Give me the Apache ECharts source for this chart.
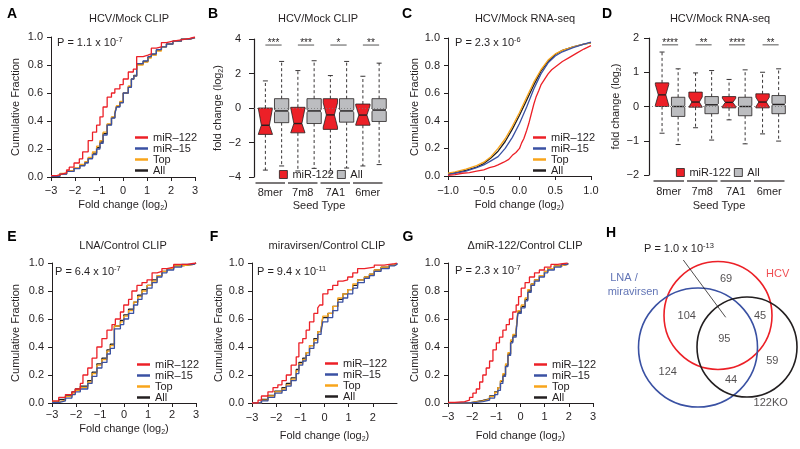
<!DOCTYPE html>
<html>
<head>
<meta charset="utf-8">
<script src="https://cdn.jsdelivr.net/npm/echarts@6/dist/echarts.min.js"></script>
<style>
html, body { margin: 0; padding: 0; background: #fff; }
#chart { width: 800px; height: 449px; }
</style>
</head>
<body>
<div id="chart"></div>
<script>
// --- A: HCV/Mock CLIP, [fold change, cumulative fraction]
const aMir122 = [[-3,0.01],[-2.76,0.02],[-2.56,0.03],[-2.35,0.05],[-2.24,0.07],[-2.04,0.1],[-1.82,0.13],[-1.68,0.18],[-1.45,0.26],[-1.27,0.32],[-1.1,0.37],[-0.96,0.43],[-0.83,0.5],[-0.66,0.57],[-0.48,0.6],[-0.34,0.63],[-0.13,0.66],[0.01,0.7],[0.22,0.75],[0.43,0.77],[0.57,0.86],[0.84,0.87],[1.04,0.88],[1.18,0.92],[1.39,0.93],[1.6,0.96],[1.81,0.97],[2.08,0.98],[2.43,0.99],[2.78,1.0],[3,1.0]];
const aMir15 = [[-3,0.005],[-2.63,0.02],[-2.35,0.04],[-2.04,0.06],[-1.8,0.08],[-1.59,0.1],[-1.45,0.13],[-1.27,0.16],[-1.1,0.2],[-0.96,0.24],[-0.83,0.3],[-0.66,0.37],[-0.48,0.42],[-0.34,0.45],[-0.27,0.5],[-0.13,0.53],[0.01,0.6],[0.22,0.64],[0.35,0.7],[0.45,0.72],[0.57,0.81],[0.84,0.83],[1.04,0.86],[1.18,0.88],[1.39,0.91],[1.6,0.93],[1.81,0.95],[2.08,0.97],[2.43,0.985],[2.78,0.995],[3,1.0]];
const aTop = [[-3,0.008],[-2.63,0.025],[-2.35,0.045],[-2.04,0.065],[-1.8,0.09],[-1.59,0.11],[-1.45,0.14],[-1.27,0.18],[-1.1,0.22],[-0.96,0.26],[-0.83,0.32],[-0.66,0.38],[-0.48,0.43],[-0.34,0.46],[-0.27,0.51],[-0.13,0.54],[0.01,0.6],[0.22,0.65],[0.35,0.7],[0.45,0.72],[0.57,0.8],[0.84,0.82],[1.04,0.85],[1.18,0.87],[1.39,0.9],[1.6,0.93],[1.81,0.95],[2.08,0.97],[2.43,0.985],[2.78,0.995],[3,1.0]];
const aAll = [[-3,0.006],[-2.63,0.022],[-2.35,0.042],[-2.04,0.062],[-1.8,0.085],[-1.59,0.105],[-1.45,0.135],[-1.27,0.17],[-1.1,0.21],[-0.96,0.25],[-0.83,0.31],[-0.66,0.375],[-0.48,0.425],[-0.34,0.455],[-0.27,0.505],[-0.13,0.535],[0.01,0.6],[0.22,0.645],[0.35,0.7],[0.45,0.725],[0.57,0.805],[0.84,0.825],[1.04,0.855],[1.18,0.875],[1.39,0.905],[1.6,0.93],[1.81,0.95],[2.08,0.97],[2.43,0.985],[2.78,0.995],[3,1.0]];

// --- C: HCV/Mock RNA-seq
const cMir122 = [[-1,0.005],[-0.9,0.01],[-0.8,0.02],[-0.7,0.025],[-0.6,0.035],[-0.5,0.045],[-0.42,0.06],[-0.35,0.07],[-0.3,0.08],[-0.22,0.1],[-0.15,0.12],[-0.1,0.15],[-0.05,0.17],[0,0.2],[0.03,0.24],[0.06,0.27],[0.1,0.33],[0.13,0.38],[0.16,0.44],[0.2,0.52],[0.23,0.57],[0.27,0.62],[0.3,0.66],[0.35,0.7],[0.4,0.74],[0.45,0.77],[0.5,0.79],[0.55,0.81],[0.6,0.83],[0.7,0.86],[0.8,0.89],[0.9,0.92],[1,0.945]];
const cMir15 = [[-1,0.01],[-0.9,0.02],[-0.75,0.035],[-0.6,0.06],[-0.5,0.08],[-0.4,0.11],[-0.3,0.14],[-0.2,0.2],[-0.1,0.28],[0,0.38],[0.1,0.5],[0.2,0.63],[0.3,0.74],[0.4,0.82],[0.5,0.87],[0.6,0.9],[0.75,0.93],[0.9,0.955],[1,0.97]];
const cTop = [[-1,0.02],[-0.9,0.03],[-0.75,0.05],[-0.6,0.075],[-0.5,0.1],[-0.4,0.14],[-0.3,0.2],[-0.2,0.27],[-0.1,0.36],[0,0.46],[0.1,0.57],[0.2,0.68],[0.3,0.77],[0.4,0.84],[0.5,0.885],[0.6,0.91],[0.75,0.935],[0.9,0.955],[1,0.965]];
const cAll = [[-1,0.015],[-0.9,0.025],[-0.75,0.04],[-0.6,0.065],[-0.5,0.09],[-0.4,0.13],[-0.3,0.18],[-0.2,0.25],[-0.1,0.34],[0,0.44],[0.1,0.55],[0.2,0.66],[0.3,0.76],[0.4,0.83],[0.5,0.88],[0.6,0.91],[0.75,0.935],[0.9,0.955],[1,0.965]];

// --- E: LNA/Control CLIP
const eMir122 = [[-3,0.015],[-2.72,0.04],[-2.44,0.06],[-2.17,0.08],[-2.03,0.1],[-1.82,0.14],[-1.71,0.2],[-1.51,0.25],[-1.33,0.32],[-1.13,0.4],[-0.92,0.46],[-0.71,0.52],[-0.5,0.56],[-0.36,0.6],[-0.15,0.65],[-0.01,0.7],[0.19,0.74],[0.33,0.8],[0.54,0.84],[0.75,0.86],[0.96,0.88],[1.17,0.93],[1.38,0.94],[1.58,0.96],[1.79,0.97],[2.07,0.99],[2.63,1.0],[3,1.0]];
const eMir15 = [[-3,0.003],[-2.72,0.015],[-2.44,0.035],[-2.17,0.06],[-2.03,0.08],[-1.82,0.1],[-1.51,0.14],[-1.33,0.19],[-1.13,0.25],[-0.92,0.29],[-0.71,0.35],[-0.57,0.39],[-0.4,0.53],[-0.15,0.56],[-0.01,0.6],[0.19,0.64],[0.4,0.7],[0.57,0.74],[0.75,0.78],[0.96,0.82],[1.17,0.86],[1.38,0.9],[1.58,0.93],[1.79,0.95],[2.07,0.97],[2.4,0.99],[2.9,1.0],[3,1.0]];
const eTop = [[-3,0.006],[-2.72,0.02],[-2.44,0.045],[-2.17,0.07],[-2.03,0.09],[-1.82,0.11],[-1.51,0.15],[-1.33,0.21],[-1.13,0.27],[-0.92,0.31],[-0.71,0.37],[-0.57,0.41],[-0.4,0.55],[-0.15,0.58],[-0.01,0.62],[0.19,0.66],[0.4,0.72],[0.57,0.76],[0.75,0.8],[0.96,0.84],[1.17,0.87],[1.38,0.91],[1.58,0.94],[1.79,0.96],[2.07,0.98],[2.4,0.99],[2.9,1.0],[3,1.0]];
const eAll = [[-3,0.008],[-2.72,0.025],[-2.44,0.05],[-2.17,0.08],[-2.03,0.1],[-1.82,0.12],[-1.51,0.16],[-1.33,0.22],[-1.13,0.28],[-0.92,0.32],[-0.71,0.38],[-0.57,0.42],[-0.4,0.55],[-0.15,0.59],[-0.01,0.63],[0.19,0.67],[0.4,0.72],[0.57,0.77],[0.75,0.81],[0.96,0.84],[1.17,0.88],[1.38,0.91],[1.58,0.94],[1.79,0.96],[2.07,0.98],[2.4,0.99],[2.9,1.0],[3,1.0]];

// --- F: miravirsen/Control CLIP
const fMir122 = [[-3,0],[-2.75,0.02],[-2.61,0.05],[-2.34,0.08],[-2.13,0.11],[-1.93,0.13],[-1.76,0.16],[-1.58,0.2],[-1.38,0.27],[-1.17,0.33],[-1.06,0.43],[-0.9,0.46],[-0.76,0.52],[-0.62,0.58],[-0.44,0.64],[-0.28,0.68],[-0.2,0.7],[-0.07,0.78],[0.14,0.81],[0.34,0.84],[0.55,0.87],[0.76,0.88],[0.96,0.9],[1.17,0.93],[1.37,0.96],[1.65,0.97],[2.06,0.985],[2.47,0.995],[2.9,1.0],[3,1.0]];
const fMir15 = [[-3,0],[-2.61,0.015],[-2.34,0.04],[-2.06,0.07],[-1.76,0.09],[-1.58,0.12],[-1.38,0.16],[-1.17,0.21],[-1.06,0.27],[-0.9,0.3],[-0.76,0.34],[-0.62,0.39],[-0.44,0.43],[-0.28,0.49],[-0.14,0.51],[-0.07,0.58],[0.14,0.61],[0.34,0.66],[0.55,0.72],[0.76,0.75],[0.96,0.78],[1.17,0.82],[1.37,0.86],[1.65,0.89],[1.86,0.91],[2.06,0.94],[2.34,0.96],[2.68,0.98],[2.9,0.99],[3,1.0]];
const fTop = [[-3,0],[-2.61,0.02],[-2.34,0.05],[-2.06,0.08],[-1.76,0.1],[-1.58,0.13],[-1.38,0.17],[-1.17,0.23],[-1.06,0.28],[-0.9,0.31],[-0.76,0.36],[-0.62,0.41],[-0.44,0.45],[-0.28,0.51],[-0.14,0.53],[-0.07,0.62],[0.14,0.64],[0.34,0.69],[0.55,0.75],[0.76,0.78],[0.96,0.81],[1.17,0.85],[1.37,0.88],[1.65,0.9],[1.86,0.92],[2.06,0.95],[2.34,0.97],[2.68,0.985],[2.9,0.995],[3,1.0]];
const fAll = [[-3,0],[-2.61,0.025],[-2.34,0.055],[-2.06,0.085],[-1.76,0.11],[-1.58,0.14],[-1.38,0.18],[-1.17,0.24],[-1.06,0.29],[-0.9,0.32],[-0.76,0.36],[-0.62,0.41],[-0.44,0.46],[-0.28,0.51],[-0.14,0.53],[-0.07,0.61],[0.14,0.64],[0.34,0.69],[0.55,0.74],[0.76,0.78],[0.96,0.81],[1.17,0.84],[1.37,0.88],[1.65,0.9],[1.86,0.92],[2.06,0.95],[2.34,0.97],[2.68,0.985],[2.9,0.995],[3,1.0]];

// --- G: ΔmiR-122/Control CLIP
const gMir122 = [[-3,0.005],[-2.72,0.01],[-2.31,0.02],[-2.11,0.04],[-1.97,0.07],[-1.83,0.1],[-1.69,0.15],[-1.56,0.2],[-1.42,0.25],[-1.28,0.3],[-1.14,0.38],[-1.0,0.43],[-0.87,0.47],[-0.73,0.52],[-0.59,0.56],[-0.46,0.6],[-0.32,0.65],[-0.18,0.7],[-0.08,0.76],[0.03,0.82],[0.19,0.86],[0.37,0.9],[0.58,0.93],[0.78,0.95],[0.99,0.97],[1.26,0.99],[1.54,1.0],[1.95,1.0]];
const gMir15 = [[-3,0],[-2.11,0.005],[-1.83,0.01],[-1.56,0.02],[-1.28,0.035],[-1.07,0.06],[-0.94,0.09],[-0.83,0.14],[-0.73,0.19],[-0.62,0.26],[-0.52,0.34],[-0.41,0.43],[-0.32,0.47],[-0.18,0.5],[-0.11,0.64],[0.03,0.68],[0.19,0.73],[0.3,0.79],[0.44,0.84],[0.58,0.87],[0.78,0.9],[0.99,0.93],[1.13,0.95],[1.4,0.97],[1.68,0.99],[1.95,1.0]];
const gTop = [[-3,0],[-2.11,0.008],[-1.83,0.015],[-1.56,0.025],[-1.28,0.045],[-1.07,0.075],[-0.94,0.11],[-0.83,0.16],[-0.73,0.21],[-0.62,0.28],[-0.52,0.36],[-0.41,0.45],[-0.32,0.49],[-0.18,0.52],[-0.11,0.66],[0.03,0.7],[0.19,0.75],[0.3,0.81],[0.44,0.85],[0.58,0.88],[0.78,0.91],[0.99,0.94],[1.13,0.96],[1.4,0.98],[1.68,0.99],[1.95,1.0]];
const gAll = [[-3,0],[-2.11,0.01],[-1.83,0.018],[-1.56,0.03],[-1.28,0.05],[-1.07,0.08],[-0.94,0.11],[-0.83,0.155],[-0.73,0.2],[-0.62,0.27],[-0.52,0.35],[-0.41,0.44],[-0.32,0.48],[-0.18,0.52],[-0.11,0.65],[0.03,0.69],[0.19,0.74],[0.3,0.8],[0.44,0.85],[0.58,0.88],[0.78,0.91],[0.99,0.94],[1.13,0.96],[1.4,0.98],[1.68,0.99],[1.95,1.0]];

// --- B / D: boxes per seed type, [low, q1, median, q3, high]
const seedTypes = ['8mer', '7m8', '7A1', '6mer'];
const bMir122 = [[-3.6,-1.53,-1.0,0,1.57],[-3.65,-1.44,-0.9,0.04,2.17],[-3.77,-1.24,-0.4,0.54,1.88],[-3.36,-1.0,-0.41,0.23,1.84]];
const bAll = [[-3.36,-0.85,-0.17,0.54,2.7],[-3.5,-0.9,-0.17,0.54,2.74],[-3.48,-0.82,-0.17,0.54,2.7],[-3.28,-0.78,-0.12,0.54,2.6]];
const bMir122Notch = [1.0, 0.9, 0.7, 0.55];
const bAllNotch = [0.1, 0.1, 0.1, 0.1];
const bStars = ['***', '***', '*', '**'];
const dMir122 = [[-0.78,0,0.34,0.69,1.59],[-0.62,-0.02,0.13,0.42,0.98],[-0.39,-0.04,0.12,0.29,0.79],[-0.8,-0.04,0.13,0.37,1.0]];
const dAll = [[-1.11,-0.29,0,0.27,1.1],[-0.98,-0.21,0.05,0.29,1.05],[-1.09,-0.27,0,0.27,1.07],[-1.01,-0.21,0.06,0.32,1.1]];
const dMir122Notch = [0.3, 0.15, 0.12, 0.14];
const dAllNotch = [0.03, 0.03, 0.03, 0.03];
const dStars = ['****', '**', '****', '**'];

// --- H: Venn diagram (panel units)
const vennCx = [123, 103, 152];
const vennCy = [105.5, 137.5, 137];
const vennR = [54, 59.5, 50];
const vennCounts = [69, 104, 45, 95, 59, 124, 44];
const vennCountX = [131, 91.7, 165, 129.3, 177.3, 72.7, 136];
const vennCountY = [69, 106, 106, 129, 151, 162.3, 170];
const vennNames = ['HCV', '122KO', 'LNA /', 'miravirsen'];
const vennNameX = [182.7, 175.7, 29, 38];
const vennNameY = [64.3, 193.3, 68.3, 81.7];

const font = 'Liberation Sans, Arial, Helvetica, sans-serif';
const ink = '#231f20';
const colRed = '#ec2027', colBlue = '#3a51a3', colOrange = '#f8a51b', colGray = '#bcbdc0';
const vennColors = [colRed, colBlue, ink];
const vennNameColors = [colRed, ink, colBlue, colBlue];

const rich = {
    t: { fontSize: 11, fontFamily: font, color: ink, lineHeight: 14 },
    s: { fontSize: 7, fontFamily: font, color: ink, lineHeight: 7, verticalAlign: 'bottom' },
    p: { fontSize: 7.5, fontFamily: font, color: ink, lineHeight: 8, verticalAlign: 'top' }
};
const foldName = '{t|Fold change (log}{s|2}{t|)}';
const foldNameLower = '{t|fold change (log}{s|2}{t|)}';

function minus(v, digits) {
    const s = digits === undefined ? String(Math.abs(v)) : Math.abs(v).toFixed(digits);
    return (v < 0 ? '\u2212' : '') + s;
}

function cdfX(grid, min, max, interval, digits, margin, nameGap, showMax) {
    return {
        type: 'value', gridIndex: grid, min, max, interval,
        axisLine: { show: true, onZero: false, lineStyle: { color: ink, width: 1 } },
        axisTick: { show: true, length: 4, lineStyle: { color: ink } },
        axisLabel: { fontSize: 11, color: ink, fontFamily: font, margin, showMinLabel: true, showMaxLabel: showMax, formatter: v => minus(v, digits) },
        splitLine: { show: false },
        name: foldName, nameLocation: 'middle', nameGap, nameTextStyle: { rich }
    };
}

function cdfY(grid, nameGap) {
    return {
        type: 'value', gridIndex: grid, min: 0, max: 1, interval: 0.2,
        axisLine: { show: true, onZero: false, lineStyle: { color: ink, width: 1 } },
        axisTick: { show: true, length: 4, lineStyle: { color: ink } },
        axisLabel: { fontSize: 11, color: ink, fontFamily: font, margin: 8, formatter: v => v.toFixed(1) },
        splitLine: { show: false },
        name: 'Cumulative Fraction', nameLocation: 'middle', nameGap,
        nameTextStyle: { fontSize: 11, color: ink, fontFamily: font }
    };
}

function catX(grid, margin, nameGap) {
    return {
        type: 'category', gridIndex: grid, data: seedTypes,
        axisLine: { show: false, onZero: false }, axisTick: { show: false },
        axisLabel: { fontSize: 11, color: ink, fontFamily: font, margin, interval: 0, hideOverlap: false },
        name: 'Seed Type', nameLocation: 'middle', nameGap,
        nameTextStyle: { fontSize: 11, color: ink, fontFamily: font }
    };
}

function boxY(grid, min, max, interval, margin, nameGap, offset) {
    return {
        type: 'value', gridIndex: grid, min, max, interval, offset,
        axisLine: { show: true, onZero: false, lineStyle: { color: ink, width: 1.2 } },
        axisTick: { show: true, length: 5, lineStyle: { color: ink } },
        axisLabel: { fontSize: 11, color: ink, fontFamily: font, margin, formatter: v => minus(v) },
        splitLine: { show: false },
        name: foldNameLower, nameLocation: 'middle', nameGap, nameTextStyle: { rich }
    };
}

function cdfSeries(grid, name, data, color, step) {
    return {
        type: 'line', name, xAxisIndex: grid, yAxisIndex: grid, data,
        step: step ? 'end' : false, symbol: 'none', silent: true,
        lineStyle: { color, width: 1.3 }, itemStyle: { color }
    };
}

function cdfPanel(grid, red, blue, orange, black, step) {
    return [
        cdfSeries(grid, 'All', black, ink, step),
        cdfSeries(grid, 'Top', orange, colOrange, step),
        cdfSeries(grid, 'miR\u201315', blue, colBlue, step),
        cdfSeries(grid, 'miR\u2013122', red, colRed, step)
    ];
}

function cdfLegend(left, top) {
    return {
        left, top, orient: 'vertical', icon: 'rect', itemWidth: 13, itemHeight: 2.5, itemGap: 0,
        selectedMode: false, padding: 0,
        textStyle: { fontSize: 11, color: ink, fontFamily: font, lineHeight: 10 },
        data: [
            { name: 'miR\u2013122', itemStyle: { color: colRed } },
            { name: 'miR\u201315', itemStyle: { color: colBlue } },
            { name: 'Top', itemStyle: { color: colOrange } },
            { name: 'All', itemStyle: { color: ink, borderWidth: 0 } }
        ]
    };
}

function boxLegend(left, top) {
    return {
        left, top, orient: 'horizontal', icon: 'rect', itemWidth: 8, itemHeight: 8, itemGap: 3,
        selectedMode: false, padding: 0,
        textStyle: { fontSize: 11, color: ink, fontFamily: font },
        data: [
            { name: 'miR-122', itemStyle: { color: colRed, borderColor: ink, borderWidth: 0.8 } },
            { name: 'All', itemStyle: { color: colGray, borderColor: ink, borderWidth: 0.8 } }
        ]
    };
}

// notched box drawn from the category axis and value axis
function boxSeries(grid, name, boxes, notches, offset, widthFrac, insetFrac, fill) {
    return {
        type: 'custom', name, xAxisIndex: grid, yAxisIndex: grid, z: 3, silent: true,
        itemStyle: { color: fill },
        data: boxes.map((b, i) => [i].concat(b, [notches[i]])),
        encode: { x: 0, y: [1, 2, 3, 4, 5] },
        renderItem: function (params, api) {
            const i = api.value(0);
            const band = api.size([1, 0])[0];
            const cx = api.coord([i, 0])[0] + offset * band;
            const w = widthFrac * band;
            const l = cx - w / 2, r = cx + w / 2, inset = w * insetFrac;
            const y = v => api.coord([i, v])[1];
            const lo = api.value(1), q1 = api.value(2), med = api.value(3), q3 = api.value(4), hi = api.value(5), nh = api.value(6);
            const nTop = Math.min(q3, med + nh), nBot = Math.max(q1, med - nh);
            const dash = { stroke: ink, lineWidth: 0.9, lineDash: [3, 2.5] };
            const solid = { stroke: ink, lineWidth: 0.9 };
            return {
                type: 'group', children: [
                    { type: 'line', shape: { x1: cx, y1: y(q3), x2: cx, y2: y(hi) }, style: dash },
                    { type: 'line', shape: { x1: cx, y1: y(q1), x2: cx, y2: y(lo) }, style: dash },
                    { type: 'line', shape: { x1: cx - 2.5, y1: y(hi), x2: cx + 2.5, y2: y(hi) }, style: solid },
                    { type: 'line', shape: { x1: cx - 2.5, y1: y(lo), x2: cx + 2.5, y2: y(lo) }, style: solid },
                    { type: 'polygon', shape: { points: [[l, y(q3)], [r, y(q3)], [r, y(nTop)], [r - inset, y(med)], [r, y(nBot)], [r, y(q1)], [l, y(q1)], [l, y(nBot)], [l + inset, y(med)], [l, y(nTop)]] }, style: { fill: api.visual('color'), stroke: ink, lineWidth: 0.8 } },
                    { type: 'line', shape: { x1: l + inset, y1: y(med), x2: r - inset, y2: y(med) }, style: { stroke: ink, lineWidth: 1.4 } }
                ]
            };
        }
    };
}

// significance bars, group underlines and the dotted zero line
function boxDecor(grid, stars, starLevel, redOff, grayOff) {
    return {
        type: 'custom', xAxisIndex: grid, yAxisIndex: grid, z: 1, silent: true,
        data: stars.map((s, i) => [i, starLevel]),
        renderItem: function (params, api) {
            const i = api.value(0);
            const band = api.size([1, 0])[0];
            const c = api.coord([i, api.value(1)]);
            const bottom = params.coordSys.y + params.coordSys.height;
            const x1 = c[0] + redOff * band, x2 = c[0] + grayOff * band;
            return {
                type: 'group', children: [
                    { type: 'line', shape: { x1, y1: c[1], x2, y2: c[1] }, style: { stroke: '#555', lineWidth: 1 } },
                    { type: 'text', x: (x1 + x2) / 2, y: c[1] - 2, style: { text: stars[i], fontSize: 10, fontFamily: font, fill: ink, align: 'center', verticalAlign: 'middle' } },
                    { type: 'line', shape: { x1: c[0] - band / 2 + 1.5, y1: bottom + 6, x2: c[0] + band / 2 - 1.5, y2: bottom + 6 }, style: { stroke: ink, lineWidth: 1.2 } }
                ]
            };
        },
        markLine: {
            silent: true, symbol: 'none', label: { show: false },
            lineStyle: { color: '#777', type: [1, 2], width: 0.8 },
            data: [{ yAxis: 0 }]
        }
    };
}

const chart = echarts.init(document.getElementById('chart'));

const texts = [
    ['A', 12, 14, 'center', true], ['B', 213, 14, 'center', true], ['C', 407, 14, 'center', true], ['D', 607, 14, 'center', true],
    ['E', 12, 237, 'center', true], ['F', 214, 237, 'center', true], ['G', 408, 237, 'center', true], ['H', 611, 233, 'center', true],
    ['HCV/Mock CLIP', 129, 19, 'center'], ['HCV/Mock CLIP', 318, 19, 'center'],
    ['HCV/Mock RNA-seq', 525, 19, 'center'], ['HCV/Mock RNA-seq', 720, 19, 'center'],
    ['LNA/Control CLIP', 123, 246, 'center'], ['miravirsen/Control CLIP', 327, 246, 'center'],
    ['\u0394miR-122/Control CLIP', 525, 246, 'center'],
    ['{t|P = 1.1 x 10}{p|-7}', 57, 43, 'left'], ['{t|P = 2.3 x 10}{p|-6}', 455, 43, 'left'],
    ['{t|P = 6.4 x 10}{p|-7}', 55, 272, 'left'], ['{t|P = 9.4 x 10}{p|-11}', 257, 272, 'left'],
    ['{t|P = 2.3 x 10}{p|-7}', 455, 271, 'left'], ['{t|P = 1.0 x 10}{p|-13}', 644, 249, 'left']
];

const option = {
    animation: false,
    backgroundColor: '#fff',
    textStyle: { fontFamily: font },
    grid: [
        { left: 51, top: 37, width: 144, height: 140 },
        { left: 254, top: 39, width: 130, height: 138 },
        { left: 448, top: 38, width: 143, height: 138 },
        { left: 652, top: 38, width: 134, height: 137 },
        { left: 52, top: 263, width: 144, height: 140 },
        { left: 252, top: 263, width: 145, height: 140 },
        { left: 448, top: 263, width: 145, height: 140 },
        { left: 595, top: 210, width: 205, height: 239 }
    ].map(g => Object.assign({ outerBoundsMode: 'none', containLabel: false }, g)),
    xAxis: [
        cdfX(0, -3, 3, 1, undefined, 8, 21, true),
        catX(1, 10, 23),
        cdfX(2, -1, 1, 0.5, 1, 9, 22, true),
        catX(3, 11, 25),
        cdfX(4, -3, 3, 1, undefined, 6, 19, true),
        cdfX(5, -3, 3, 1, undefined, 9, 26, false),
        cdfX(6, -3, 3, 1, undefined, 8, 26, true),
        { type: 'value', gridIndex: 7, min: 0, max: 205, show: false }
    ],
    yAxis: [
        cdfY(0, 30),
        boxY(1, -4, 4, 2, 13, 18, 0),
        cdfY(2, 28),
        boxY(3, -2, 2, 1, 10, 22, 3),
        cdfY(4, 31),
        cdfY(5, 27),
        cdfY(6, 28),
        { type: 'value', gridIndex: 7, min: 0, max: 239, inverse: true, show: false }
    ],
    legend: [
        cdfLegend(135, 132), cdfLegend(533, 132), cdfLegend(137, 359),
        cdfLegend(325, 358), cdfLegend(534, 359),
        boxLegend(279, 169), boxLegend(676, 167)
    ],
    graphic: texts.map(t => ({
        type: 'text', x: t[1], y: t[2], silent: true,
        style: t[4]
            ? { text: t[0], fontSize: 14, fontWeight: 'bold', fontFamily: font, fill: '#000', align: t[3], verticalAlign: 'middle' }
            : { text: t[0], fontSize: 11, fontFamily: font, fill: ink, align: t[3], verticalAlign: 'middle', rich }
    })),
    series: [].concat(
        cdfPanel(0, aMir122, aMir15, aTop, aAll, true),
        cdfPanel(2, cMir122, cMir15, cTop, cAll, false),
        cdfPanel(4, eMir122, eMir15, eTop, eAll, true),
        cdfPanel(5, fMir122, fMir15, fTop, fAll, true),
        cdfPanel(6, gMir122, gMir15, gTop, gAll, true),
        [
            boxDecor(1, bStars, 3.65, -0.15, 0.35),
            boxSeries(1, 'miR-122', bMir122, bMir122Notch, -0.15, 0.44, 0.22, colRed),
            boxSeries(1, 'All', bAll, bAllNotch, 0.35, 0.44, 0.08, colGray),
            boxDecor(3, dStars, 1.8, -0.2, 0.28),
            boxSeries(3, 'miR-122', dMir122, dMir122Notch, -0.2, 0.4, 0.22, colRed),
            boxSeries(3, 'All', dAll, dAllNotch, 0.28, 0.4, 0.08, colGray),
            {
                type: 'custom', xAxisIndex: 7, yAxisIndex: 7, silent: true,
                data: vennCx.map((x, i) => [x, vennCy[i], vennR[i]]),
                renderItem: function (params, api) {
                    const c = api.coord([api.value(0), api.value(1)]);
                    const r = api.size([api.value(2), 0])[0];
                    return { type: 'circle', shape: { cx: c[0], cy: c[1], r }, style: { fill: 'none', stroke: vennColors[params.dataIndex], lineWidth: 1.6 } };
                }
            },
            {
                type: 'scatter', xAxisIndex: 7, yAxisIndex: 7, silent: true, symbolSize: 1,
                itemStyle: { color: 'rgba(0,0,0,0)' },
                data: vennCounts.map((n, i) => [vennCountX[i], vennCountY[i], n]),
                label: { show: true, position: 'inside', formatter: p => String(p.value[2]), fontSize: 11, fontFamily: font, color: ink }
            },
            {
                type: 'scatter', xAxisIndex: 7, yAxisIndex: 7, silent: true, symbolSize: 1,
                itemStyle: { color: 'rgba(0,0,0,0)' },
                data: vennNames.map((n, i) => ({
                    value: [vennNameX[i], vennNameY[i]], name: n,
                    label: { color: vennNameColors[i] }
                })),
                label: { show: true, position: 'inside', formatter: p => p.name, fontSize: 11, fontFamily: font }
            },
            {
                type: 'line', xAxisIndex: 7, yAxisIndex: 7, silent: true, symbol: 'none',
                data: [[88.3, 50], [130.7, 107.3]],
                lineStyle: { color: ink, width: 0.8 }
            }
        ]
    )
};

chart.setOption(option);
</script>
</body>
</html>
